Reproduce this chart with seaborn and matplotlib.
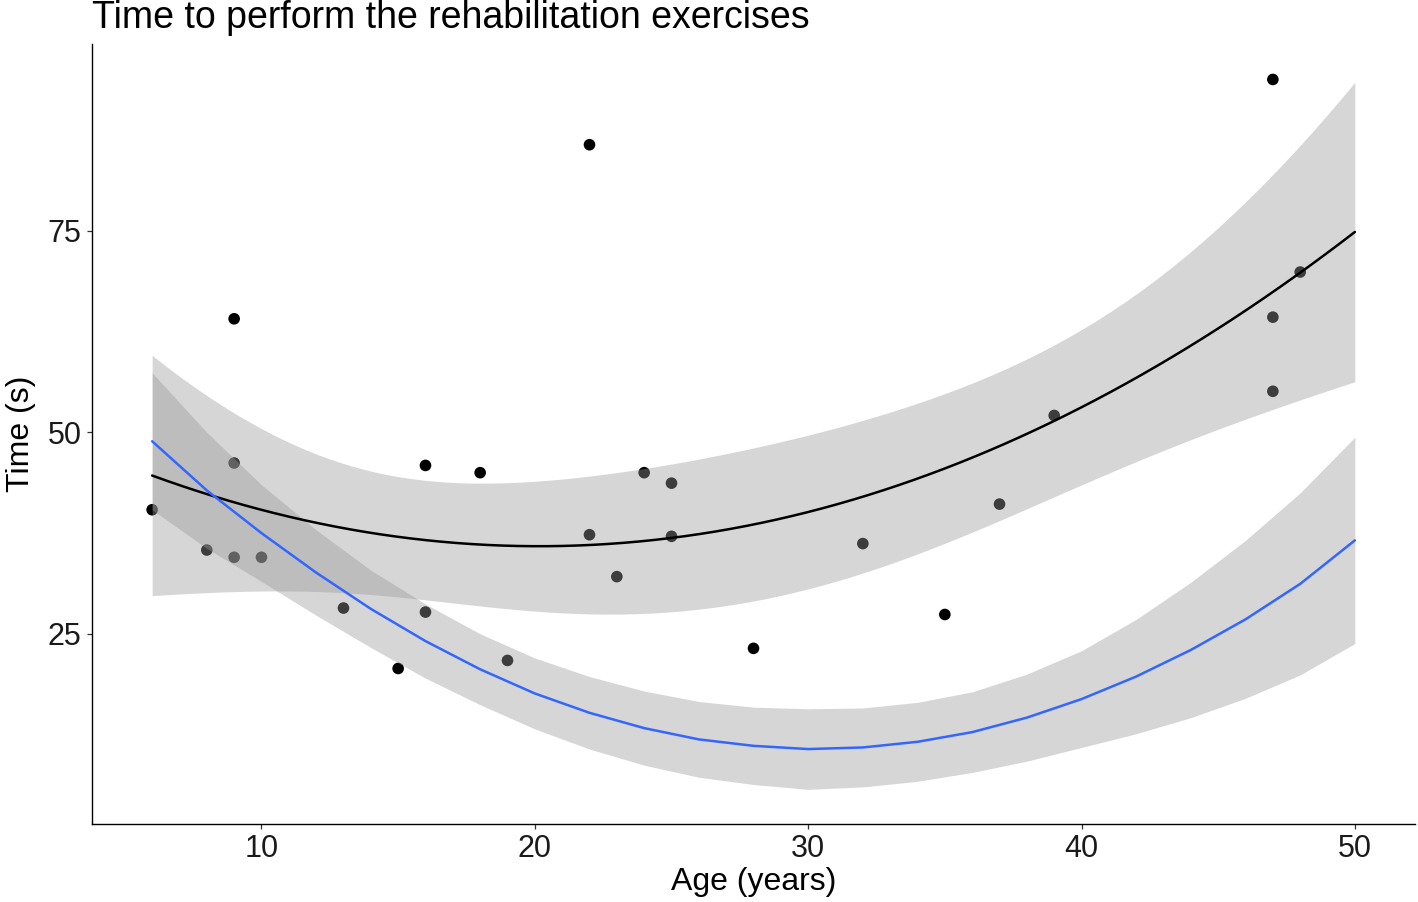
import numpy as np
import pandas as pd
import seaborn as sns
import matplotlib.pyplot as plt

age = [6, 8, 9, 9, 9, 10, 13, 15, 16, 16, 18, 19, 22, 22, 23, 24, 25, 25,
       28, 32, 35, 37, 39, 47, 47, 47, 48]
time_s = [40.4, 35.4, 64.1, 46.2, 34.5, 34.5, 28.2, 20.7, 45.9, 27.7, 45.0,
          21.7, 85.7, 37.3, 32.1, 45.0, 43.7, 37.1, 23.2, 36.2, 27.4, 41.1,
          52.1, 93.8, 64.3, 55.1, 69.9]

# second (blue) quadratic fit, every 2 years
blue_age = [6, 8, 10, 12, 14, 16, 18, 20, 22, 24, 26, 28, 30, 32, 34, 36,
            38, 40, 42, 44, 46, 48, 50]
blue_fit = [48.9, 42.8, 37.5, 32.6, 28.1, 24.1, 20.6, 17.6, 15.2, 13.3,
            11.9, 11.1, 10.7, 10.9, 11.6, 12.8, 14.6, 16.9, 19.7, 23.0,
            26.8, 31.2, 36.6]
blue_lo = [40.4, 35.6, 31.5, 27.3, 23.3, 19.5, 16.2, 13.2, 10.7, 8.7,
           7.2, 6.3, 5.7, 6.0, 6.7, 7.8, 9.2, 10.9, 12.6, 14.6, 17.0,
           19.9, 23.8]
blue_hi = [57.4, 50.0, 43.5, 37.9, 32.9, 28.7, 25.0, 22.0, 19.7, 17.9,
           16.6, 15.9, 15.7, 15.8, 16.5, 17.8, 20.0, 22.9, 26.8, 31.4,
           36.6, 42.5, 49.4]

df = pd.DataFrame({'age': age, 'time': time_s})
blue = pd.DataFrame({'age': blue_age, 'fit': blue_fit, 'lo': blue_lo, 'hi': blue_hi})

# quadratic lm fit of the points with a 95% confidence band (like geom_smooth)
x = df['age'].to_numpy(float)
y = df['time'].to_numpy(float)
X = np.column_stack([np.ones_like(x), x, x ** 2])
beta, *_ = np.linalg.lstsq(X, y, rcond=None)
resid = y - X @ beta
s2 = resid @ resid / (len(x) - 3)
xtx_inv = np.linalg.inv(X.T @ X)
grid = np.linspace(6, 50, 80)
G = np.column_stack([np.ones_like(grid), grid, grid ** 2])
fit = G @ beta
se = np.sqrt(s2 * np.einsum('ij,jk,ik->i', G, xtx_inv, G))
t_crit = 2.064  # t(0.975, df=24)
black = pd.DataFrame({'age': grid, 'fit': fit,
                      'lo': fit - t_crit * se, 'hi': fit + t_crit * se})

sns.set_theme(style='white')
plt.rcParams['font.family'] = ['Liberation Sans', 'DejaVu Sans']

fig = plt.figure(figsize=(14.18, 9.02), dpi=100)
ax = fig.add_axes([92 / 1418, 1 - 824 / 902, (1415 - 92) / 1418, (824 - 44) / 902])

ribbon = '#999999'

sns.scatterplot(data=df, x='age', y='time', color='black', s=70,
                edgecolor='none', ax=ax, zorder=1)

ax.fill_between(black['age'], black['lo'], black['hi'], color=ribbon,
                alpha=0.4, linewidth=0, zorder=1)
sns.lineplot(data=black, x='age', y='fit', color='black', linewidth=1.8,
             ax=ax, zorder=3)

ax.fill_between(blue['age'], blue['lo'], blue['hi'], color=ribbon,
                alpha=0.4, linewidth=0, zorder=1)
sns.lineplot(data=blue, x='age', y='fit', color='#3366FF', linewidth=1.8,
             ax=ax, zorder=3)

ax.set_xlim(3.8, 52.2)
ax.set_ylim(1.4, 98.2)
ax.set_xticks([10, 20, 30, 40, 50])
ax.set_yticks([25, 50, 75])

for side in ['top', 'right']:
    ax.spines[side].set_visible(False)
for side in ['left', 'bottom']:
    ax.spines[side].set_color('black')
    ax.spines[side].set_linewidth(1.0)
ax.tick_params(axis='both', which='major', direction='out', length=3.5,
               width=0.9, color='#333333', labelsize=22,
               labelcolor='#1a1a1a', pad=4, left=True, bottom=True)

ax.set_xlabel('Age (years)', fontsize=23, color='black', labelpad=2)
ax.set_ylabel('Time (s)', fontsize=23, color='black', labelpad=8)

fig.text(92 / 1418, 1 - 28 / 902, 'Time to perform the rehabilitation exercises',
         fontsize=27, color='black', ha='left', va='baseline')

fig.savefig('out.png', dpi=100)
